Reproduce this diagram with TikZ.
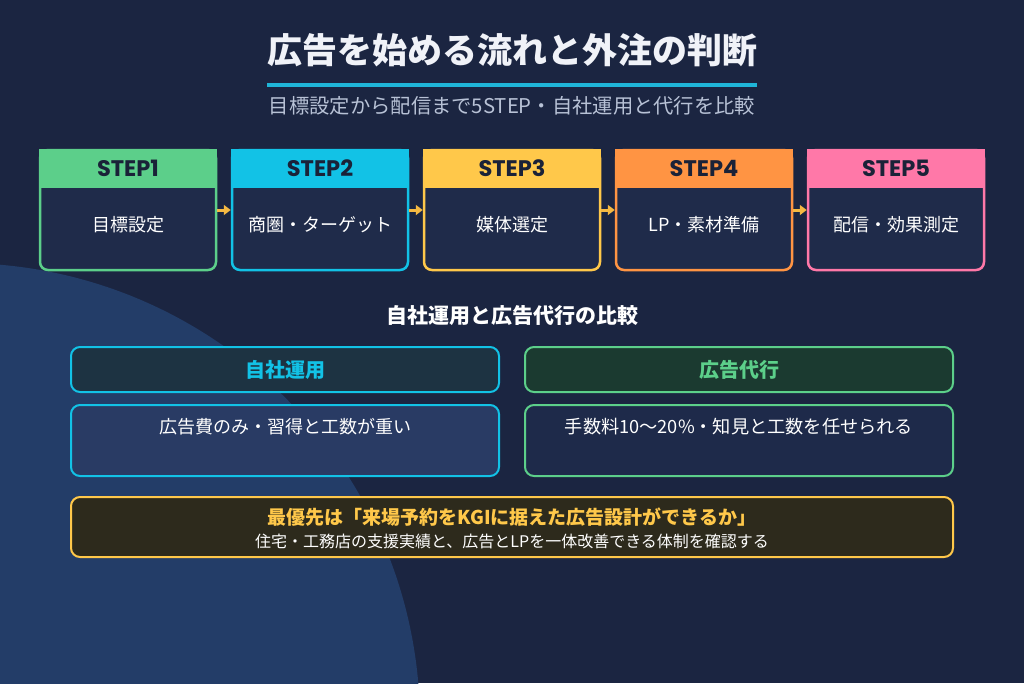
\documentclass[tikz,border=0pt]{standalone}
\usepackage{fontspec}
\setmainfont{Noto Sans CJK JP}
\newfontfamily\popfont{Poppins}
\newfontfamily\heavyfont{Noto Sans CJK JP Black}
\usetikzlibrary{arrows.meta}
\definecolor{bgc}{HTML}{1B2541}
\definecolor{circ}{HTML}{233D68}
\definecolor{stepbody}{HTML}{1F2B4A}
\definecolor{cgreen}{HTML}{5CCF8A}
\definecolor{ccyan}{HTML}{12C2E6}
\definecolor{cyellow}{HTML}{FFC84A}
\definecolor{corange}{HTML}{FF9443}
\definecolor{cpink}{HTML}{FF78A8}
\definecolor{hdtext}{HTML}{1A2238}
\definecolor{titlec}{HTML}{F0F2F8}
\definecolor{subc}{HTML}{B8C2D6}
\definecolor{lhead}{HTML}{1D3342}
\definecolor{rhead}{HTML}{1B3A30}
\definecolor{lbody}{HTML}{293B64}
\definecolor{rbody}{HTML}{1E2A4A}
\definecolor{botfill}{HTML}{2D2A1C}
\definecolor{arrowc}{HTML}{F5B942}
\definecolor{uline}{HTML}{1FB5D8}
\tikzset{
  stepbox/.style={draw=#1, fill=stepbody, line width=2.5pt, rounded corners=8pt,
    minimum width=176pt, minimum height=120pt, inner sep=0pt},
  steplabel/.style={font=\popfont\bfseries\fontsize{22.5}{26}\selectfont, text=hdtext, inner sep=0pt},
  stepbodytext/.style={font=\fontsize{18}{22}\selectfont, text=white, inner sep=0pt},
  flow/.style={draw=arrowc, line width=3pt, -{Triangle[length=7pt,width=10pt]}},
  cmpbox/.style={draw=#1, line width=2pt, rounded corners=9pt, minimum width=428pt, inner sep=0pt},
}
\begin{document}
\begin{tikzpicture}[x=1pt,y=-1pt]
\useasboundingbox (0,0) rectangle (1024,683);
\fill[bgc] (0,0) rectangle (1024,683);
\begin{scope}
\clip (0,0) rectangle (1024,683);
\fill[circ] (-40,723) circle[radius=460pt];
\end{scope}

% title
\node[font=\heavyfont\fontsize{35}{40}\selectfont, text=titlec, inner sep=0pt] (title) at (512,50) {広告を始める流れと外注の判断};
\fill[uline] (267,82.5) rectangle (757,86.5);
\node[font=\fontsize{20.3}{24}\selectfont, text=subc, inner sep=0pt] (sub) at (512,106) {目標設定から配信まで5STEP・自社運用と代行を比較};

% steps
\foreach \i/\cx/\col/\txt in {1/128/cgreen/目標設定, 2/320/ccyan/商圏・ターゲット, 3/512/cyellow/媒体選定, 4/704/corange/LP・素材準備, 5/896/cpink/配信・効果測定}{
  \node[stepbox=\col] (s\i) at (\cx,210) {};
  \fill[\col] (\cx-89.25,148.75) rectangle (\cx+89.25,188);
  \node[steplabel] (h\i) at (\cx,168) {STEP\i};
  \node[stepbodytext] (b\i) at (\cx,225) {\txt};
}
\draw[flow] (s1.east) -- (s2.west);
\draw[flow] (s2.east) -- (s3.west);
\draw[flow] (s3.east) -- (s4.west);
\draw[flow] (s4.east) -- (s5.west);

% comparison
\node[font=\heavyfont\fontsize{21}{25}\selectfont, text=white, inner sep=0pt] (cmp) at (512,316) {自社運用と広告代行の比較};
\node[cmpbox=ccyan, fill=lhead, minimum height=45pt, text=ccyan, font=\heavyfont\fontsize{20}{24}\selectfont] (lh) at (285,369.5) {自社運用};
\node[cmpbox=cgreen, fill=rhead, minimum height=45pt, text=cgreen, font=\heavyfont\fontsize{20}{24}\selectfont] (rh) at (739,369.5) {広告代行};
\node[cmpbox=ccyan, fill=lbody, minimum height=71pt] (lb) at (285,440.5) {};
\node[cmpbox=cgreen, fill=rbody, minimum height=71pt] (rb) at (739,440.5) {};
\node[font=\fontsize{18}{22}\selectfont, text=white, inner sep=0pt] (lbt) at (285,427) {広告費のみ・習得と工数が重い};
\node[font=\fontsize{18.2}{22}\selectfont, text=white, inner sep=0pt] (rbt) at (739,427) {手数料10〜20\%・知見と工数を任せられる};

% bottom
\node[draw=cyellow, fill=botfill, line width=2pt, rounded corners=9pt, minimum width=882pt, minimum height=60pt, inner sep=0pt] (bot) at (512,527) {};
\node[font=\heavyfont\fontsize{19}{23}\selectfont, text=cyellow, inner sep=0pt] (bot1) at (512,517) {最優先は「来場予約をKGIに据えた広告設計ができるか」};
\node[font=\fontsize{16}{20}\selectfont, text=white, inner sep=0pt] (bot2) at (512,541) {住宅・工務店の支援実績と、広告とLPを一体改善できる体制を確認する};
\end{tikzpicture}
\end{document}
